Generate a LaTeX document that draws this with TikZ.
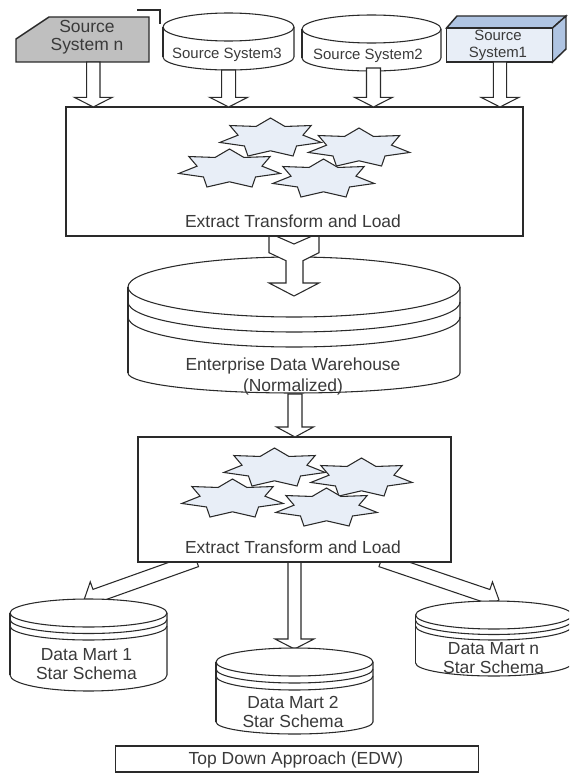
\documentclass[tikz,border=0pt]{standalone}
\usepackage{fontspec}
\setmainfont{Liberation Sans}
\usetikzlibrary{calc}
\definecolor{ink}{HTML}{2A2A2A}
\definecolor{txt}{HTML}{3A3A3A}
\definecolor{paleblue}{HTML}{E8EEF7}
\definecolor{midblue}{HTML}{AFC4E2}
\definecolor{midgray}{HTML}{BFBFBF}
\tikzset{
  ln/.style={draw=ink,line width=0.8pt,line join=miter},
  heavy/.style={draw=ink,line width=1.1pt},
  arrowbody/.style={ln,fill=white},
  plainbox/.style={ln,fill=white,rectangle,inner sep=0pt,outer sep=0pt},
  txtbig/.style={text=txt,align=center,inner sep=0pt,font=\fontsize{13.1pt}{#1}\selectfont},
  txtbig/.default=14pt,
  txtsmall/.style={text=txt,align=center,inner sep=0pt,font=\fontsize{11.2pt}{#1}\selectfont},
  txtsmall/.default=12pt,
  starfill/.style={ln,fill=paleblue}
}
% half ellipse from (x0,c) to (x1,c), bulge r
\newcommand\halfell[4]{(#1,#3) .. controls (#1,{#3+.5523*(#4)}) and ({(#1+#2)/2-.5523*(#2-#1)/2},{#3+(#4)}) .. ({(#1+#2)/2},{#3+(#4)}) .. controls ({(#1+#2)/2+.5523*(#2-#1)/2},{#3+(#4)}) and (#2,{#3+.5523*(#4)}) .. (#2,#3)}
% x0 x1 centre ry side-end bottom-ry
\newcommand\dbcyl[6]{%
  \fill[white] \halfell{#1}{#2}{#3}{-#4} -- (#2,#5) -- \halfell{#2}{#1}{#5}{#6} -- cycle;
  \draw[ln] \halfell{#1}{#2}{#3}{-#4} -- (#2,#5);
  \draw[ln] (#1,#3) -- (#1,#5);
  \draw[ln] \halfell{#1}{#2}{#5}{#6};
  \draw[ln] \halfell{#1}{#2}{#3}{#4};
}
% block arrow: from, to, half shaft, half head, head length (px)
\newcommand\blockarrow[5]{%
  \coordinate (baF) at ($(#2)!#5*0.75pt!(#1)$);
  \draw[arrowbody] ($(#1)!#3*0.75pt!90:(#2)$) -- ($(baF)!#3*0.75pt!90:(#2)$)
     -- ($(baF)!#4*0.75pt!90:(#2)$) -- (#2) -- ($(baF)!#4*0.75pt!-90:(#2)$)
     -- ($(baF)!#3*0.75pt!-90:(#2)$) -- ($(#1)!#3*0.75pt!-90:(#2)$) -- cycle;
}
\newcommand\sevenstar[3]{%
  \draw[starfill,shift={(#1,#2)}] plot[samples at={0,1,...,13},variable=\k]
    ({(1-0.36*mod(\k,2))*#3*cos(-90+\k*180/7)},{(1-0.36*mod(\k,2))*20*sin(-90+\k*180/7)}) -- cycle;
}
\begin{document}
\begin{tikzpicture}[x=0.75pt,y=-0.75pt]
\useasboundingbox (0,0) rectangle (569,774);
\clip (0,0) rectangle (569,774);
\fill[white] (0,0) rectangle (569,774);

% --- sources ---
\draw[heavy,fill=midgray] (16,39) -- (49,17) -- (149,17) -- (149,62) -- (16,62) -- cycle;
\draw[ln,line width=1pt] (137,10) -- (160,10) -- (160,24);
\dbcyl{163}{294}{27}{14}{57}{13}
\dbcyl{302}{441}{29}{14}{58}{13}
\draw[heavy,fill=midblue] (446.5,28) -- (457,16) -- (566,16) -- (552.5,28) -- cycle;
\draw[heavy,fill=midblue] (552.5,28) -- (566,16) -- (566,49) -- (552.5,62) -- cycle;
\node[heavy,fill=paleblue,rectangle,inner sep=0pt,outer sep=0pt,minimum width=79.5pt,minimum height=25.5pt] (srcone) at (499.5,45) {};

\node[txtbig=13.5pt] (srcntext) at (87,37) {Source\\System n};
\node[txtsmall] (srcthree) at (227,54.5) {Source System3};
\node[txtsmall] (srctwo) at (368,55.5) {Source System2};
\node[txtsmall=12.4pt] (srconetext) at (498,45.5) {Source\\System1};

\coordinate (srcnb) at (93.3,62);
\coordinate (cylthreeb) at (228.7,70);
\coordinate (cyltwob) at (373.5,68);
\coordinate (srconeb) at (srcone.south -| 500,0);

% --- EDW ---
\dbcyl{128}{460}{287}{30}{373}{20}
\draw[ln] \halfell{128}{460}{302}{30};
\draw[ln] \halfell{128}{460}{317}{30};
\node[txtbig=15.75pt] (edw) at (293,376.5) {Enterprise Data Warehouse\\(Normalized)};

% arrow from first ETL into EDW
\coordinate (edwtip) at (294,296);
\draw[arrowbody] (269,233) -- (294,244) -- (319,233) -- (319,252.7) -- (303,260.7) -- (303,283) -- (319,283)
  -- (edwtip) -- (269,283) -- (286,283) -- (286,260.7) -- (269,252.7) -- cycle;

% --- first ETL ---
\node[plainbox,minimum width=342.75pt,minimum height=96.75pt] (etlone) at (294.5,171.5) {};
\coordinate (aoe) at (srcnb |- etlone.north);
\coordinate (ate) at (cylthreeb |- etlone.north);
\coordinate (ase) at (cyltwob |- etlone.north);
\coordinate (afe) at (srconeb |- etlone.north);
\blockarrow{srcnb}{aoe}{6.7}{19}{9.7}
\blockarrow{cylthreeb}{ate}{7}{19}{9.7}
\blockarrow{cyltwob}{ase}{7}{19}{9.7}
\blockarrow{srconeb}{afe}{6.7}{19}{9.7}
\sevenstar{270.5}{138}{52}
\sevenstar{359}{148}{52}
\sevenstar{229.5}{169}{52}
\sevenstar{323.5}{179}{52}
\node[txtbig] (etlonetext) at (293,221) {Extract Transform and Load};

% --- arrows to data marts (behind box and cylinders) ---
\coordinate (lstart) at (196.2,560);
\coordinate (ltip) at (84,600);
\coordinate (rstart) at (381.2,560);
\coordinate (rtip) at (499,600);
\coordinate (mstart) at (294.5,562);
\coordinate (mtip) at (294.5,649);
\blockarrow{lstart}{ltip}{7}{15}{12}
\blockarrow{rstart}{rtip}{7}{15}{12}
\blockarrow{mstart}{mtip}{6.5}{19.5}{10}

% --- second ETL ---
\coordinate (edwb) at (295,394);
\node[plainbox,minimum width=234.75pt,minimum height=93.75pt] (etltwo) at (294.5,499.5) {};
\coordinate (etae) at (edwb |- etltwo.north);
\blockarrow{edwb}{etae}{7}{18.5}{10}
\sevenstar{274.5}{468}{52}
\sevenstar{361.5}{478}{52}
\sevenstar{232.5}{499}{52}
\sevenstar{326.5}{508}{52}
\node[txtbig] (etltwotext) at (293,547) {Extract Transform and Load};

% --- data marts ---
\dbcyl{10}{167}{613}{14}{675}{16}
\draw[ln] \halfell{10}{167}{619.5}{14};
\draw[ln] \halfell{10}{167}{626}{14};
\node[txtbig=13.7pt] (dmone) at (86.5,664) {Data Mart 1\\Star Schema};

\dbcyl{216}{373}{662}{14}{722}{12}
\draw[ln] \halfell{216}{373}{669}{14};
\draw[ln] \halfell{216}{373}{676}{14};
\node[txtbig=14.25pt] (dmtwo) at (293,712) {Data Mart 2\\Star Schema};

\dbcyl{415.6}{572}{615}{14}{663}{13}
\draw[ln] \halfell{415.6}{572}{620.5}{14};
\draw[ln] \halfell{415.6}{572}{626}{14};
\node[txtbig=14.25pt] (dmn) at (493.6,658.5) {Data Mart n\\Star Schema};

% --- caption ---
\node[plainbox,minimum width=272.25pt,minimum height=19.5pt] (capbox) at (296.7,759) {};
\node[txtbig] (captext) at (296,760) {Top Down Approach (EDW)};
\end{tikzpicture}
\end{document}
